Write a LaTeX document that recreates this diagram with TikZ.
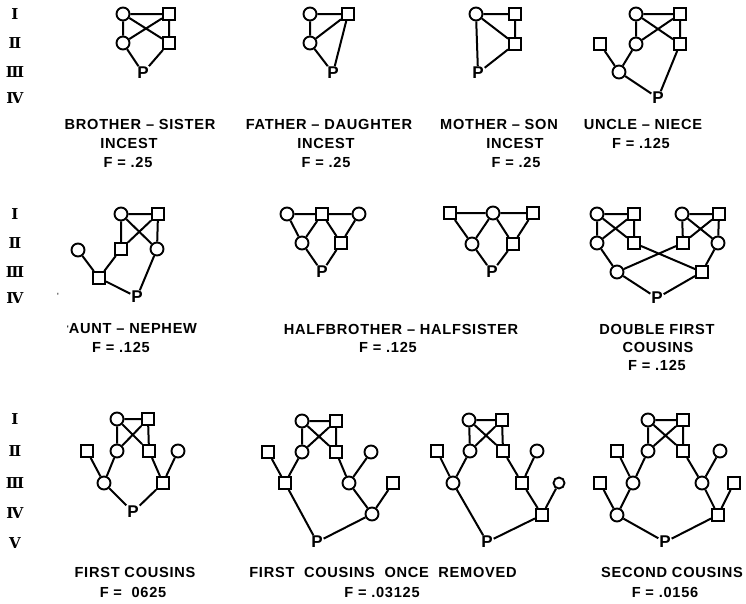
\documentclass[tikz,border=0pt]{standalone}
\usepackage{fontspec}
\newfontfamily\labfont{Liberation Sans}[LetterSpace=5]
\newfontfamily\numfont{DejaVu Serif}
\begin{document}
\begin{tikzpicture}[x=1pt,y=-1pt,
  ci/.style={circle,draw,line width=1.9pt,minimum size=13pt,inner sep=0pt},
  sq/.style={rectangle,draw,line width=1.9pt,minimum size=12pt,inner sep=0pt},
  pp/.style={font=\labfont\bfseries\fontsize{17}{17}\selectfont,inner sep=0.8pt},
  ln/.style={line width=2pt},
  lab/.style={font=\labfont\bfseries\fontsize{14.6}{16}\selectfont,inner sep=0pt},
  num/.style={font=\numfont\bfseries\fontsize{15}{15}\selectfont,inner sep=0pt},
  tick/.style={font=\labfont\fontsize{9}{9}\selectfont,inner sep=0pt}
]
\useasboundingbox (0,0) rectangle (746,603);
\fill[white] (0,0) rectangle (746,603);

% ---------- generation numerals ----------
\node[num] (n11) at (15,14) {Ⅰ};
\node[num] (n12) at (15,43) {Ⅱ};
\node[num] (n13) at (15,72) {Ⅲ};
\node[num] (n14) at (15,98) {Ⅳ};
\node[num] (n21) at (15,214) {Ⅰ};
\node[num] (n22) at (15,243) {Ⅱ};
\node[num] (n23) at (15,272) {Ⅲ};
\node[num] (n24) at (15,298) {Ⅳ};
\node[num] (n31) at (15,419) {Ⅰ};
\node[num] (n32) at (15,451) {Ⅱ};
\node[num] (n33) at (15,483) {Ⅲ};
\node[num] (n34) at (15,513) {Ⅳ};
\node[num] (n35) at (15,543) {Ⅴ};

% ---------- Brother-sister ----------
\node[ci] (a1) at (123,14) {};
\node[sq] (a2) at (169,14) {};
\node[ci] (a3) at (123,43) {};
\node[sq] (a4) at (169,43) {};
\node[pp] (aP) at (143,73) {P};
\draw[ln] (a1)--(a2) (a1)--(a3) (a2)--(a4) (a1)--(a4) (a2)--(a3) (a3)--(aP) (a4)--(aP);
\node[lab] (aL1) at (140,124) {BROTHER – SISTER};
\node[lab] (aL2) at (129,143) {INCEST};
\node[lab] (aL3) at (128,162) {F = .25};

% ---------- Father-daughter ----------
\node[ci] (b1) at (310,14) {};
\node[sq] (b2) at (348,14) {};
\node[ci] (b3) at (310,43) {};
\node[pp] (bP) at (333,73) {P};
\draw[ln] (b1)--(b2) (b1)--(b3) (b2)--(b3) (b2)--(bP) (b3)--(bP);
\node[lab] (bL1) at (329,124) {FATHER – DAUGHTER};
\node[lab] (bL2) at (326,143) {INCEST};
\node[lab] (bL3) at (326,162) {F = .25};

% ---------- Mother-son ----------
\node[ci] (c1) at (476,14) {};
\node[sq] (c2) at (515,14) {};
\node[sq] (c4) at (515,44) {};
\node[pp] (cP) at (478,73) {P};
\draw[ln] (c1)--(c2) (c1)--(cP) (c1)--(c4) (c2)--(c4) (c4)--(cP);
\node[lab] (cL1) at (499,124) {MOTHER – SON};
\node[lab] (cL2) at (515,143) {INCEST};
\node[lab] (cL3) at (516,162) {F = .25};

% ---------- Uncle-niece ----------
\node[ci] (d1) at (636,14) {};
\node[sq] (d2) at (680,14) {};
\node[sq] (d0) at (600,44) {};
\node[ci] (d3) at (636,44) {};
\node[sq] (d4) at (680,44) {};
\node[ci] (d5) at (619,72) {};
\node[pp] (dP) at (658,98) {P};
\draw[ln] (d1)--(d2) (d1)--(d3) (d2)--(d4) (d1)--(d4) (d2)--(d3)
          (d0)--(d5) (d3)--(d5) (d5)--(dP) (d4)--(dP);
\node[lab] (dL1) at (643,124) {UNCLE – NIECE};
\node[lab] (dL2) at (641,143) {F = .125};

% ---------- Aunt-nephew ----------
\node[ci] (e1) at (121,214) {};
\node[sq] (e2) at (158,214) {};
\node[ci] (e0) at (78,250) {};
\node[sq] (e3) at (121,249) {};
\node[ci] (e4) at (157,249) {};
\node[sq] (e5) at (99,278) {};
\node[pp] (eP) at (137,297) {P};
\draw[ln] (e1)--(e2) (e1)--(e3) (e2)--(e4) (e1)--(e4) (e2)--(e3)
          (e0)--(e5) (e3)--(e5) (e5)--(eP) (e4)--(eP);
\node[tick] (eT) at (58,296) {'};
\node[lab] (eL1) at (132,329) {\raisebox{2pt}{\fontsize{8}{8}\selectfont '}AUNT – NEPHEW};
\node[lab] (eL2) at (121,347) {F = .125};

% ---------- Halfbrother-halfsister (1) ----------
\node[ci] (f1) at (287,214) {};
\node[sq] (f2) at (322,214) {};
\node[ci] (f3) at (359,214) {};
\node[ci] (f4) at (302,243) {};
\node[sq] (f5) at (341,243) {};
\node[pp] (fP) at (322,272) {P};
\draw[ln] (f1)--(f2) (f2)--(f3) (f1)--(f4) (f2)--(f4) (f2)--(f5) (f3)--(f5) (f4)--(fP) (f5)--(fP);

% ---------- Halfbrother-halfsister (2) ----------
\node[sq] (g1) at (450,213) {};
\node[ci] (g2) at (493,213) {};
\node[sq] (g3) at (533,213) {};
\node[ci] (g4) at (472,244) {};
\node[sq] (g5) at (513,244) {};
\node[pp] (gP) at (492,272) {P};
\draw[ln] (g1)--(g2) (g2)--(g3) (g1)--(g4) (g2)--(g4) (g2)--(g5) (g3)--(g5) (g4)--(gP) (g5)--(gP);
\node[lab] (fL1) at (401,329) {HALFBROTHER – HALFSISTER};
\node[lab] (fL2) at (388,347) {F = .125};

% ---------- Double first cousins ----------
\node[ci] (h1) at (597,214) {};
\node[sq] (h2) at (634,214) {};
\node[ci] (h3) at (597,243) {};
\node[sq] (h4) at (634,243) {};
\node[ci] (h5) at (682,214) {};
\node[sq] (h6) at (719,214) {};
\node[sq] (h7) at (683,243) {};
\node[ci] (h8) at (718,243) {};
\node[ci] (h9) at (617,272) {};
\node[sq] (h10) at (702,272) {};
\node[pp] (hP) at (657,298) {P};
\draw[ln] (h1)--(h2) (h1)--(h3) (h2)--(h4) (h1)--(h4) (h2)--(h3)
          (h5)--(h6) (h5)--(h7) (h6)--(h8) (h5)--(h8) (h6)--(h7)
          (h3)--(h9) (h4)--(h10) (h7)--(h9) (h8)--(h10) (h9)--(hP) (h10)--(hP);
\node[lab] (hL1) at (657,329) {DOUBLE FIRST};
\node[lab] (hL2) at (658,347) {COUSINS};
\node[lab] (hL3) at (657,365) {F = .125};

% ---------- First cousins ----------
\node[ci] (i1) at (117,419) {};
\node[sq] (i2) at (148,419) {};
\node[sq] (i0) at (87,451) {};
\node[ci] (i3) at (117,451) {};
\node[sq] (i4) at (149,451) {};
\node[ci] (i5) at (178,451) {};
\node[ci] (i6) at (104,483) {};
\node[sq] (i7) at (163,483) {};
\node[pp] (iP) at (133,512) {P};
\draw[ln] (i1)--(i2) (i1)--(i3) (i2)--(i4) (i1)--(i4) (i2)--(i3)
          (i0)--(i6) (i3)--(i6) (i4)--(i7) (i5)--(i7) (i6)--(iP) (i7)--(iP);
\node[lab] (iL1) at (135,572) {FIRST COUSINS};
\node[lab] (iL2) at (133,592) {F = \ 0625};

% ---------- First cousins once removed (1) ----------
\node[ci] (j1) at (302,421) {};
\node[sq] (j2) at (336,421) {};
\node[sq] (j0) at (268,452) {};
\node[ci] (j3) at (302,452) {};
\node[sq] (j4) at (336,452) {};
\node[ci] (j5) at (371,452) {};
\node[sq] (j6) at (285,483) {};
\node[ci] (j7) at (349,483) {};
\node[sq] (j8) at (393,483) {};
\node[ci] (j9) at (372,514) {};
\node[pp] (jP) at (317,542) {P};
\draw[ln] (j1)--(j2) (j1)--(j3) (j2)--(j4) (j1)--(j4) (j2)--(j3)
          (j0)--(j6) (j3)--(j6) (j4)--(j7) (j5)--(j7) (j7)--(j9) (j8)--(j9)
          (j6)--(jP) (j9)--(jP);

% ---------- First cousins once removed (2) ----------
\node[ci] (k1) at (469,420) {};
\node[sq] (k2) at (502,420) {};
\node[sq] (k0) at (437,451) {};
\node[ci] (k3) at (470,451) {};
\node[sq] (k4) at (503,451) {};
\node[ci] (k5) at (537,451) {};
\node[ci] (k6) at (453,483) {};
\node[sq] (k7) at (522,483) {};
\node[ci,minimum size=11pt] (k8) at (559,483) {};
\node[sq] (k9) at (542,515) {};
\node[pp] (kP) at (487,542) {P};
\draw[ln] (k1)--(k2) (k1)--(k3) (k2)--(k4) (k1)--(k4) (k2)--(k3)
          (k0)--(k6) (k3)--(k6) (k4)--(k7) (k5)--(k7) (k7)--(k9) (k8)--(k9)
          (k6)--(kP) (k9)--(kP);
\node[lab] (jL1) at (383,572) {FIRST \ COUSINS \ ONCE \ REMOVED};
\node[lab] (jL2) at (382,592) {F = .03125};

% ---------- Second cousins ----------
\node[ci] (l1) at (648,420) {};
\node[sq] (l2) at (683,420) {};
\node[sq] (l0) at (617,451) {};
\node[ci] (l3) at (648,451) {};
\node[sq] (l4) at (683,451) {};
\node[ci] (l5) at (720,451) {};
\node[sq] (l6) at (600,483) {};
\node[ci] (l7) at (633,483) {};
\node[ci] (l8) at (702,483) {};
\node[sq] (l9) at (734,483) {};
\node[ci] (l10) at (617,515) {};
\node[sq] (l11) at (718,515) {};
\node[pp] (lP) at (665,542) {P};
\draw[ln] (l1)--(l2) (l1)--(l3) (l2)--(l4) (l1)--(l4) (l2)--(l3)
          (l0)--(l7) (l3)--(l7) (l4)--(l8) (l5)--(l8)
          (l6)--(l10) (l7)--(l10) (l8)--(l11) (l9)--(l11) (l10)--(lP) (l11)--(lP);
\node[lab] (lL1) at (672,572) {SECOND COUSINS};
\node[lab] (lL2) at (665,592) {F = .0156};
\end{tikzpicture}
\end{document}
